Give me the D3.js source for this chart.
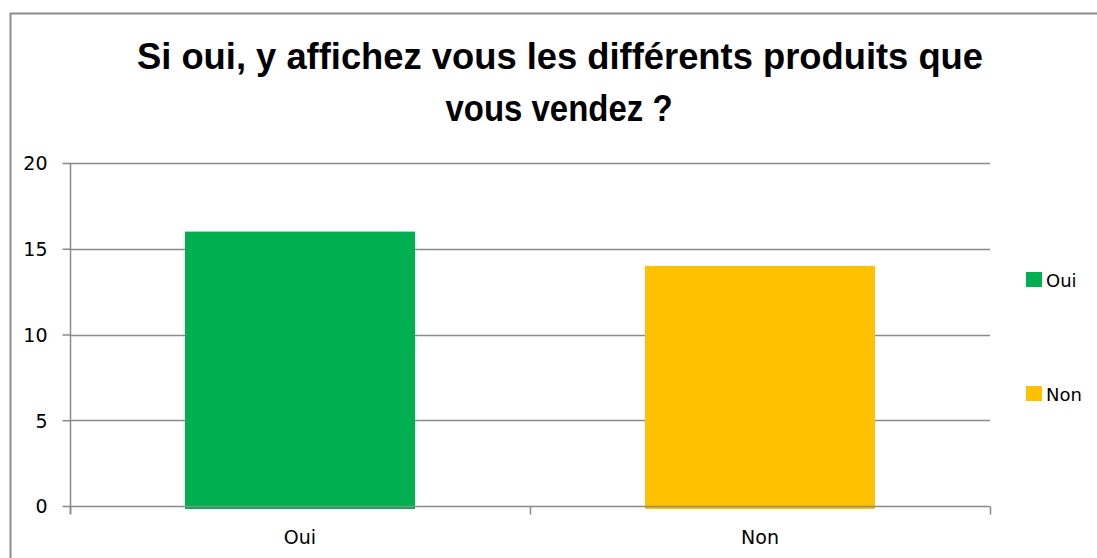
<!DOCTYPE html>
<html>
<head>
<meta charset="utf-8">
<script src="https://cdn.jsdelivr.net/npm/d3@7"></script>
<style>
  html, body { margin: 0; padding: 0; background: #fff; }
  svg { display: block; }
</style>
</head>
<body>
<svg id="chart" width="1097" height="558"></svg>
<script>
const categories = ["Oui", "Non"];
const values = [16, 14];
const colors = ["#00B050", "#FFC000"];
const yTicks = [0, 5, 10, 15, 20];
const titleLines = ["Si oui, y affichez vous les différents produits que", "vous vendez ?"];

const svg = d3.select("#chart");
const W = 1097, H = 558;
const gridColor = "#8a8a8a";

// outer chart border (top + left only visible)
svg.append("path")
  .attr("d", `M10.5,${H} L10.5,13.5 L${W},13.5`)
  .attr("fill", "none").attr("stroke", "#8c8c8c").attr("stroke-width", 2);

// title
const titleFont = "'Liberation Sans', Arial, sans-serif";
const tg = svg.append("g");
tg.append("text").attr("x", 560).attr("y", 69).attr("text-anchor", "middle")
  .attr("font-family", titleFont).attr("font-weight", "bold").attr("font-size", 36)
  .attr("fill", "#000").attr("textLength", 846).attr("lengthAdjust", "spacingAndGlyphs")
  .text(titleLines[0]);
tg.append("text").attr("x", 559).attr("y", 121).attr("text-anchor", "middle")
  .attr("font-family", titleFont).attr("font-weight", "bold").attr("font-size", 36)
  .attr("fill", "#000").attr("textLength", 227).attr("lengthAdjust", "spacingAndGlyphs")
  .text(titleLines[1]);

const x = d3.scaleBand().domain(categories).range([70, 990]).paddingInner(0).paddingOuter(0);
const y = d3.scaleLinear().domain([0, 20]).range([506, 163]);

// gridlines
svg.append("g").selectAll("line").data(yTicks.filter(d => d > 0)).join("line")
  .attr("x1", 70).attr("x2", 990)
  .attr("y1", d => Math.round(y(d)) + 0.5).attr("y2", d => Math.round(y(d)) + 0.5)
  .attr("stroke", gridColor).attr("stroke-width", 1.5);

// bars
const bw = x.bandwidth() * 0.5;
svg.append("g").selectAll("rect").data(categories).join("rect")
  .attr("x", d => x(d) + (x.bandwidth() - bw) / 2)
  .attr("y", (d, i) => y(values[i]))
  .attr("width", bw)
  .attr("height", (d, i) => y(0) - y(values[i]) + 3)
  .attr("fill", (d, i) => colors[i]);

// y axis
const yAxis = d3.axisLeft(y).tickValues(yTicks).tickSize(8).tickPadding(15).tickFormat(d3.format("d"));
const gy = svg.append("g").attr("transform", "translate(70.5,0)").call(yAxis);
gy.select(".domain").attr("d", `M0,${y(20)}V${y(0) + 8}`).attr("stroke", gridColor).attr("stroke-width", 1.5);
gy.selectAll(".tick line").attr("stroke", gridColor).attr("stroke-width", 1.5);
gy.selectAll(".tick text").attr("font-family", "'DejaVu Sans', sans-serif").attr("font-size", 19).attr("fill", "#000").attr("dy", "0.36em");

// x axis
const xAxis = d3.axisBottom(x).tickSize(0).tickPadding(24);
const gx = svg.append("g").attr("transform", `translate(0,${Math.round(y(0)) + 0.5})`).call(xAxis);
gx.select(".domain").attr("d", `M70,0H990`).attr("stroke", gridColor).attr("stroke-width", 1.5);
gx.selectAll(".tick text").attr("font-family", "'DejaVu Sans', sans-serif").attr("font-size", 19).attr("fill", "#000");
// category boundary ticks
const bounds = [x.range()[0], ...categories.map(c => x(c) + x.bandwidth())];
gx.append("g").selectAll("line").data(bounds).join("line")
  .attr("x1", d => d + 0.5).attr("x2", d => d + 0.5).attr("y1", 0).attr("y2", 8)
  .attr("stroke", gridColor).attr("stroke-width", 1.5);

// legend
const legend = svg.append("g");
const legendY = [272, 386];
categories.forEach((c, i) => {
  const g = legend.append("g").attr("transform", `translate(1026,${legendY[i]})`);
  g.append("rect").attr("width", 16).attr("height", 15).attr("fill", colors[i]);
  g.append("text").attr("x", 20).attr("y", 15).attr("font-family", "'DejaVu Sans', sans-serif")
    .attr("font-size", 18).attr("fill", "#000").text(c);
});
</script>
</body>
</html>
